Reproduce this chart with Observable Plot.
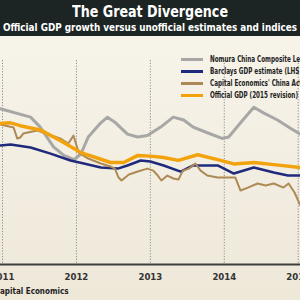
<!DOCTYPE html>
<html>
<head>
<meta charset="utf-8">
<script src="https://cdn.jsdelivr.net/npm/d3@7"></script>
<script src="https://cdn.jsdelivr.net/npm/@observablehq/plot@0.6"></script>
<style>
  html, body { margin: 0; padding: 0; }
  body {
    width: 300px; height: 300px; overflow: hidden; position: relative;
    background: linear-gradient(#f8f5ec, #eee8d9);
    font-family: "Liberation Sans Narrow", "DejaVu Sans Condensed", Roboto, sans-serif;
  }
  #head { position: absolute; left: 0; top: 0; width: 300px; height: 36px; background: #1c2523; }
  .fit { position: absolute; white-space: nowrap; color: #fff; font-weight: bold; transform-origin: 0 50%; line-height: 1; }
  #title { top: 4px; font-size: 16px; }
  #subtitle { top: 22px; font-size: 11px; }
  #chart { position: absolute; left: -20px; top: 36px; width: 340px; }
  #chart svg { max-width: none; }
  #legend { position: absolute; left: 0; top: 0; }
  .row { position: absolute; left: 180px; height: 12px; }
  .sw { position: absolute; left: 1px; top: 4.5px; width: 22px; height: 3px; }
  .lab { position: absolute; left: 30px; top: 0; white-space: nowrap; font-size: 8.5px; font-weight: bold; color: #222; line-height: 12px; transform-origin: 0 50%; transform: scaleX(0.74); }
  #caption { position: absolute; top: 287px; white-space: nowrap; font-size: 8px; font-weight: bold; color: #222; line-height: 10px; }
</style>
</head>
<body>
<div id="head">
  <div id="title" class="fit">The Great Divergence</div>
  <div id="subtitle" class="fit">Official GDP growth versus unofficial estimates and indices</div>
</div>
<div id="chart"></div>
<div id="legend"></div>
<div id="caption"><span id="capHead">Source: C</span><span>apital Economics</span></div>
<script>
// Year gridlines / tick labels
const years = [2011, 2012, 2013, 2014, 2015];

// Series names and colours (legend order = drawing order)
const seriesNames = [
  "Nomura China Composite Leading Indicator (RHS)",
  "Barclays GDP estimate (LHS)",
  "Capital Economics' China Activity Proxy (LHS)",
  "Official GDP (2015 revision)"
];
const seriesColors = ["#a7a7a5", "#1f2a7c", "#ad8a55", "#f2a20c"];
const seriesWidths = [3, 2.5, 2, 3.5];

// [decimal year, value]
const nomura = [
  [2010.97, 11.0], [2011.38, 10.4], [2011.51, 9.7], [2011.69, 8.3], [2011.83, 7.7],
  [2011.97, 7.4], [2012.06, 7.8], [2012.16, 9.0], [2012.33, 10.0], [2012.42, 10.4],
  [2012.53, 10.0], [2012.69, 9.2], [2012.83, 9.0], [2012.96, 9.1], [2013.14, 9.7],
  [2013.31, 10.4], [2013.45, 10.2], [2013.58, 9.7], [2013.77, 9.3], [2013.97, 8.9],
  [2014.06, 9.0], [2014.22, 10.0], [2014.40, 11.1], [2014.53, 10.7], [2014.72, 10.2],
  [2014.90, 9.6], [2015.06, 9.1]
];
const barclays = [
  [2010.97, 8.4], [2011.11, 8.47], [2011.38, 8.26], [2011.65, 7.83], [2011.92, 7.34],
  [2012.10, 7.13], [2012.33, 6.85], [2012.56, 6.77], [2012.69, 6.99], [2012.87, 7.34],
  [2013.00, 7.27], [2013.18, 6.99], [2013.41, 6.56], [2013.58, 6.99], [2013.91, 6.99],
  [2014.13, 6.42], [2014.40, 6.85], [2014.67, 6.49], [2014.86, 6.28], [2015.03, 6.28]
];
const capitalEconomics = [
  [2010.97, 9.88], [2011.15, 9.67], [2011.20, 8.89], [2011.24, 8.96], [2011.28, 9.24],
  [2011.47, 9.46], [2011.55, 9.32], [2011.78, 8.9], [2011.89, 8.54], [2011.96, 9.10],
  [2012.03, 7.9], [2012.16, 7.48], [2012.33, 7.13], [2012.46, 6.92], [2012.52, 6.77],
  [2012.57, 6.14], [2012.61, 5.93], [2012.71, 6.35], [2012.83, 6.56], [2012.96, 6.77],
  [2013.04, 6.63], [2013.10, 6.28], [2013.15, 5.93], [2013.23, 6.28], [2013.31, 6.07],
  [2013.38, 6.0], [2013.44, 6.63], [2013.52, 6.77], [2013.61, 7.13], [2013.68, 6.63],
  [2013.77, 6.28], [2013.91, 6.14], [2014.15, 6.14], [2014.22, 5.22], [2014.32, 5.43],
  [2014.45, 5.72], [2014.56, 5.58], [2014.67, 5.72], [2014.80, 5.43], [2014.87, 5.72],
  [2014.95, 5.08], [2015.03, 4.16]
];
const official = [
  [2010.97, 9.95], [2011.11, 10.0], [2011.24, 9.8], [2011.51, 9.5], [2011.78, 8.75],
  [2012.06, 7.9], [2012.29, 7.5], [2012.46, 7.2], [2012.64, 7.2], [2012.83, 7.7],
  [2013.00, 7.65], [2013.18, 7.55], [2013.38, 7.35], [2013.64, 7.75], [2013.91, 7.4],
  [2014.13, 7.1], [2014.40, 7.2], [2014.67, 7.05], [2015.03, 6.85]
];

const allSeries = [nomura, barclays, capitalEconomics, official];

const chart = Plot.plot({
  width: 340,
  height: 250,
  marginTop: 24,
  marginBottom: 22,
  marginLeft: 0,
  marginRight: 0,
  x: { domain: [2011, 2015], range: [22, 317.7] },
  y: { domain: [0, 14.4], axis: null },
  style: { background: "transparent", overflow: "visible" },
  marks: [
    Plot.ruleX(years, { stroke: "#8d8d8d", strokeDasharray: "1.2,1.6", strokeWidth: 1 }),
    Plot.ruleY([0], { stroke: "#3e3e3e", strokeWidth: 2 }),
    ...allSeries.map((s, i) => Plot.line(s, {
      x: d => d[0], y: d => d[1],
      stroke: seriesColors[i], strokeWidth: seriesWidths[i],
      strokeLinejoin: "round", strokeLinecap: "round"
    })),
    Plot.axisX(years, {
      tickSize: 0, tickPadding: 9, tickFormat: "d",
      fontSize: 9.5, fontWeight: "bold", fill: "#333",
      fontFamily: "'Liberation Sans Narrow', 'DejaVu Sans Condensed', Roboto, sans-serif"
    })
  ]
});
document.getElementById("chart").appendChild(chart);

// Legend rows
const legend = document.getElementById("legend");
const rowTops = [53, 65, 77, 89];
seriesNames.forEach((name, i) => {
  const row = document.createElement("div");
  row.className = "row";
  row.style.top = rowTops[i] + "px";
  const sw = document.createElement("div");
  sw.className = "sw";
  sw.style.background = seriesColors[i];
  const lab = document.createElement("div");
  lab.className = "lab";
  lab.textContent = name;
  row.appendChild(sw);
  row.appendChild(lab);
  legend.appendChild(row);
});

// Fit the header lines to their widths
function fit(id, left, width) {
  const el = document.getElementById(id);
  const w = el.getBoundingClientRect().width;
  el.style.left = left + "px";
  el.style.transform = `scaleX(${width / w})`;
}
fit("title", 72, 156);
fit("subtitle", 3, 294);

// Caption starts just past the page edge
const capHead = document.getElementById("capHead");
document.getElementById("caption").style.left = (-capHead.getBoundingClientRect().width) + "px";
</script>
</body>
</html>
